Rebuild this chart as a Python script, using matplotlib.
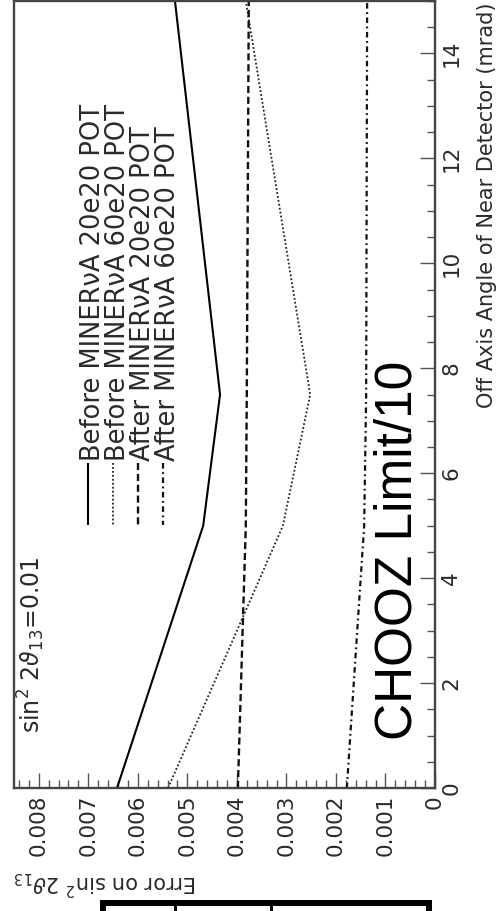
import matplotlib
matplotlib.use('Agg')
import matplotlib.pyplot as plt
from matplotlib.lines import Line2D
from matplotlib.patches import Rectangle
from matplotlib.ticker import MultipleLocator, FixedLocator, FuncFormatter

plt.rcParams['font.family'] = ['DejaVu Sans']
plt.rcParams['mathtext.fontset'] = 'dejavusans'

# off-axis angle of the near detector (mrad) and error on sin^2 2theta13
angle = [0, 5, 7.5, 15]
before_20e20 = [0.00642, 0.00468, 0.00434, 0.00525]
before_60e20 = [0.00539, 0.00307, 0.00252, 0.00382]
after_20e20 = [0.00398, 0.00382, 0.00380, 0.00376]
after_60e20 = [0.00178, 0.00143, 0.00139, 0.00137]

labels = ['Before MINER\u03bdA 20e20 POT', 'Before MINER\u03bdA 60e20 POT',
          'After MINER\u03bdA 20e20 POT', 'After MINER\u03bdA 60e20 POT']
err_ticks = [0, 0.001, 0.002, 0.003, 0.004, 0.005, 0.006, 0.007, 0.008]
angle_ticks = [0, 2, 4, 6, 8, 10, 12, 14]

W, H = 497, 911


def fx(x):
    return x / W


def fy(y):
    return 1 - y / H


fig = plt.figure(figsize=(W / 100, H / 100), dpi=100)
fig.patch.set_facecolor('white')

# plot is drawn turned on its side: error runs right-to-left, angle runs up
ax = fig.add_axes([fx(14), fy(788), (435 - 14) / W, (788 - 1) / H])
ax.set_xlim(0.0085, 0)
ax.set_ylim(0, 15)

styles = [
    dict(color='black', lw=1.5, ls='-'),
    dict(color='#222222', lw=1.3, ls=(0, (1, 1.2))),
    dict(color='#111111', lw=1.7, ls=(0, (3, 1.6))),
    dict(color='#111111', lw=1.6, ls=(0, (2.5, 1.6, 0.8, 1.6))),
]
for series, st in zip([before_20e20, before_60e20, after_20e20, after_60e20], styles):
    ax.plot(series, angle, solid_capstyle='butt', dash_capstyle='butt', **st)

for sp in ax.spines.values():
    sp.set_color('#444444')
    sp.set_linewidth(1.7)

ax.xaxis.set_major_locator(FixedLocator(err_ticks))
ax.xaxis.set_minor_locator(MultipleLocator(0.0002))
ax.xaxis.set_major_formatter(FuncFormatter(lambda v, p: '0' if abs(v) < 1e-9 else f'{v:.3f}'))
ax.yaxis.set_major_locator(FixedLocator(angle_ticks))
ax.yaxis.set_minor_locator(MultipleLocator(0.5))
ax.yaxis.set_major_formatter(FuncFormatter(lambda v, p: f'{v:g}'))

ax.tick_params(axis='both', which='both', direction='in', color='#555555', width=1.0,
               labelcolor='#2a2a2a', labelsize=15.5, labelrotation=90)
ax.tick_params(axis='both', which='major', length=11)
ax.tick_params(axis='both', which='minor', length=5.5)
ax.tick_params(axis='x', which='both', pad=5, top=False, bottom=True)
ax.tick_params(axis='y', which='both', pad=4.5, left=False, right=True,
               labelleft=False, labelright=True)
for lbl in ax.yaxis.get_ticklabels():
    lbl.set_va('center')
    lbl.set_ha('left')

# legend, laid out sideways
lx = [88, 113, 138, 163]
for x, st, lab in zip(lx, styles, labels):
    fig.add_artist(Line2D([fx(x), fx(x)], [fy(463), fy(525)], transform=fig.transFigure,
                          solid_capstyle='butt', dash_capstyle='butt', **st))
    fig.text(fx(x + 12), fy(461), lab, rotation=90, rotation_mode='anchor',
             ha='left', va='baseline', fontsize=18.5, color='#2a2a2a')

fig.text(fx(40), fy(733), r'sin$^2$ 2$\vartheta_{13}$=0.01', rotation=90,
         rotation_mode='anchor', ha='left', va='baseline', fontsize=17, color='#2a2a2a')

fig.text(fx(412), fy(740), 'CHOOZ Limit/10', rotation=90, rotation_mode='anchor',
         ha='left', va='baseline', fontsize=37, color='black', family='Liberation Sans')

fig.text(fx(493), fy(3), 'Off Axis Angle of Near Detector (mrad)', rotation=90,
         rotation_mode='anchor', ha='right', va='baseline', fontsize=15, color='#2a2a2a')

fig.text(fx(197), fy(875), r'Error on sin$^2$ 2$\vartheta_{13}$', rotation=180,
         rotation_mode='anchor', ha='left', va='baseline', fontsize=15, color='#2a2a2a')

# table frame peeking in at the bottom edge
boxes = [(100, 900, 332, 6), (100, 900, 6, 20), (426, 900, 6, 20),
         (174, 900, 2.5, 20), (270, 900, 2.5, 20)]
for x0, y0, w, h in boxes:
    fig.add_artist(Rectangle((fx(x0), fy(y0 + h)), w / W, h / H, transform=fig.transFigure,
                             facecolor='black', edgecolor='none'))

fig.savefig('out.png', dpi=100)
